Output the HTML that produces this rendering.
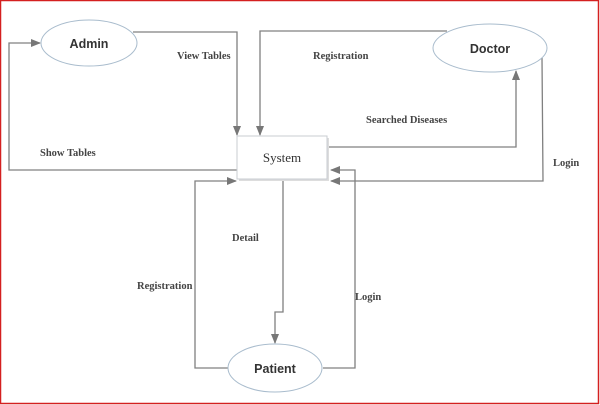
<!DOCTYPE html>
<html><head><style>body{margin:0;background:#fff}svg{display:block}</style></head><body>
<svg width="600" height="405" xmlns="http://www.w3.org/2000/svg">
<defs><marker id="a" markerWidth="10" markerHeight="8" refX="9" refY="4" orient="auto" markerUnits="userSpaceOnUse"><path d="M0,0 L10,4 L0,8z" fill="#777"/></marker></defs>
<rect x="0.5" y="0.5" width="598" height="403" fill="none" stroke="#d42020" stroke-width="1.5"/>
<g fill="none" stroke="#808080" stroke-width="1.3">
<polyline points="133,32 237,32 237,135" marker-end="url(#a)"/>
<polyline points="447,31 260,31 260,135" marker-end="url(#a)"/>
<polyline points="237,170 9,170 9,43 40,43" marker-end="url(#a)"/>
<polyline points="329,147 516,147 516,71" marker-end="url(#a)"/>
<polyline points="542,58 543,181 331,181" marker-end="url(#a)"/>
<polyline points="228,368 195,368 195,181 236,181" marker-end="url(#a)"/>
<polyline points="323,368 355,368 355,170 331,170" marker-end="url(#a)"/>
<polyline points="283,179 283,312 275,312 275,343" marker-end="url(#a)"/>
</g>
<rect x="239" y="138" width="90" height="43" fill="#ddd"/>
<rect x="237" y="136" width="90" height="43" fill="#fff" stroke="#c8ccd2"/>
<g fill="#fff" stroke="#a9bccd">
<ellipse cx="89" cy="43" rx="48" ry="23"/>
<ellipse cx="490" cy="48" rx="57" ry="24"/>
<ellipse cx="275" cy="368" rx="47" ry="24"/>
</g>
<g font-family="Liberation Sans, sans-serif" font-weight="bold" font-size="12.5" fill="#333" text-anchor="middle">
<text x="89" y="48">Admin</text><text x="490" y="53">Doctor</text><text x="275" y="373">Patient</text>
</g>
<g font-family="Liberation Serif, serif" font-size="10.5" fill="#444" font-weight="bold">
<text x="282" y="162" text-anchor="middle" font-size="13" font-weight="normal" fill="#333">System</text>
<text x="177" y="59">View Tables</text>
<text x="313" y="59">Registration</text>
<text x="366" y="123">Searched Diseases</text>
<text x="40" y="156">Show Tables</text>
<text x="553" y="166">Login</text>
<text x="232" y="241">Detail</text>
<text x="137" y="289">Registration</text>
<text x="355" y="300">Login</text>
</g>
</svg>
</body></html>
